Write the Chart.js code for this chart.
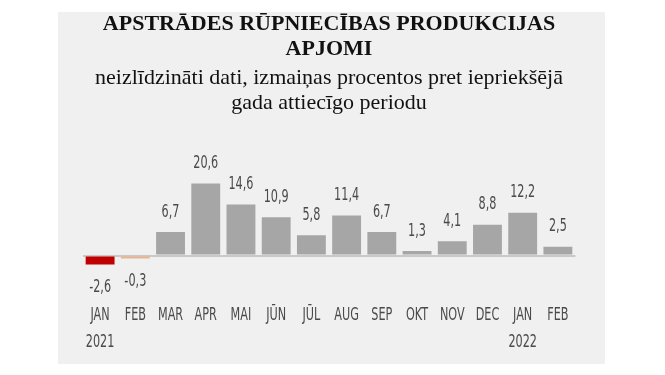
<!DOCTYPE html>
<html>
<head>
<meta charset="utf-8">
<script src="https://cdn.jsdelivr.net/npm/chart.js@4.4.1/dist/chart.umd.min.js"></script>
<style>
  html, body { margin: 0; padding: 0; background: #ffffff; }
  #wrap { position: relative; width: 665px; height: 375px; }
  #panel { position: absolute; left: 58px; top: 12px; width: 547px; height: 352px; background: #f0f0f0; }
  #chart { position: absolute; left: 0; top: 0; }
</style>
</head>
<body>
<div id="wrap">
  <div id="panel"></div>
  <canvas id="chart" width="665" height="375"></canvas>
</div>
<script>
// mēneši un gadi
const months = ['JAN', 'FEB', 'MAR', 'APR', 'MAI', 'JŪN', 'JŪL', 'AUG', 'SEP', 'OKT', 'NOV', 'DEC', 'JAN', 'FEB'];
const years = ['2021', '', '', '', '', '', '', '', '', '', '', '', '2022', ''];
const values = [-2.6, -0.3, 6.7, 20.6, 14.6, 10.9, 5.8, 11.4, 6.7, 1.3, 4.1, 8.8, 12.2, 2.5];
const barColors = ['#c00000', '#eab48e', '#a6a6a6', '#a6a6a6', '#a6a6a6', '#a6a6a6', '#a6a6a6',
  '#a6a6a6', '#a6a6a6', '#a6a6a6', '#a6a6a6', '#a6a6a6', '#a6a6a6', '#a6a6a6'];

const labelFont = '18px "Liberation Sans Narrow", "DejaVu Sans Condensed", sans-serif';
const textColor = '#4a4a4a';

// šaurs teksts (oriģinālā ir condensed fonts)
function narrowText(ctx, txt, x, y, sx) {
  ctx.save();
  ctx.translate(x, y);
  ctx.scale(sx, 1);
  ctx.fillText(txt, 0, 0);
  ctx.restore();
}

function squeeze(ctx) {
  // "20,6" references ~25px platumā
  return Math.min(1, 25 / ctx.measureText('20,6').width);
}

// vērtības virs / zem stabiņiem
const valueLabels = {
  id: 'valueLabels',
  afterDatasetsDraw(chart) {
    const ctx = chart.ctx;
    const meta = chart.getDatasetMeta(0);
    ctx.save();
    ctx.font = labelFont;
    ctx.fillStyle = textColor;
    ctx.textAlign = 'center';
    ctx.textBaseline = 'middle';
    const sx = squeeze(ctx);
    meta.data.forEach((bar, i) => {
      const v = values[i];
      const txt = v.toFixed(1).replace('.', ',');
      if (v >= 0) {
        narrowText(ctx, txt, bar.x, bar.y - 20, sx);
      } else {
        narrowText(ctx, txt, bar.x, bar.y + 23, sx);
      }
    });
    ctx.restore();
  }
};

// mēnešu un gadu nosaukumi zem ass
const monthLabels = {
  id: 'monthLabels',
  afterDraw(chart) {
    const ctx = chart.ctx;
    const xs = chart.scales.x;
    const bottom = chart.chartArea.bottom;
    ctx.save();
    ctx.font = labelFont;
    ctx.fillStyle = textColor;
    ctx.textAlign = 'center';
    ctx.textBaseline = 'middle';
    const sx = squeeze(ctx);
    months.forEach((m, i) => {
      const x = xs.getPixelForValue(i);
      narrowText(ctx, m, x, bottom + 24.5, sx);
      if (years[i]) narrowText(ctx, years[i], x, bottom + 51.5, sx);
    });
    ctx.restore();
  }
};

const ctx = document.getElementById('chart').getContext('2d');
new Chart(ctx, {
  type: 'bar',
  data: {
    labels: months,
    datasets: [{
      data: values,
      backgroundColor: barColors,
      categoryPercentage: 1,
      barPercentage: 0.82,
      minBarLength: 3
    }]
  },
  options: {
    responsive: false,
    animation: false,
    layout: { padding: { left: 82.5, right: 89.5, top: 11.5, bottom: 76.5 } },
    plugins: {
      legend: { display: false },
      tooltip: { enabled: false },
      title: {
        display: true,
        text: ['APSTRĀDES RŪPNIECĪBAS PRODUKCIJAS', 'APJOMI'],
        color: '#111111',
        font: { family: '"Liberation Serif", serif', size: 22, weight: 'bold', lineHeight: '25px' },
        padding: { top: 0, bottom: 4 }
      },
      subtitle: {
        display: true,
        text: ['neizlīdzināti dati, izmaiņas procentos pret iepriekšējā', 'gada attiecīgo periodu'],
        color: '#111111',
        font: { family: '"Liberation Serif", serif', size: 22, lineHeight: '25px' },
        padding: { top: 0, bottom: 35 }
      }
    },
    scales: {
      x: {
        grid: { display: false },
        border: { display: false },
        ticks: { display: false }
      },
      y: {
        min: -10,
        max: 30,
        border: { display: false },
        ticks: { display: false, stepSize: 1 },
        grid: {
          drawTicks: false,
          lineWidth: 2,
          color: c => c.tick.value === 0 ? '#c9c9c9' : 'transparent'
        }
      }
    }
  },
  plugins: [valueLabels, monthLabels]
});
</script>
</body>
</html>
